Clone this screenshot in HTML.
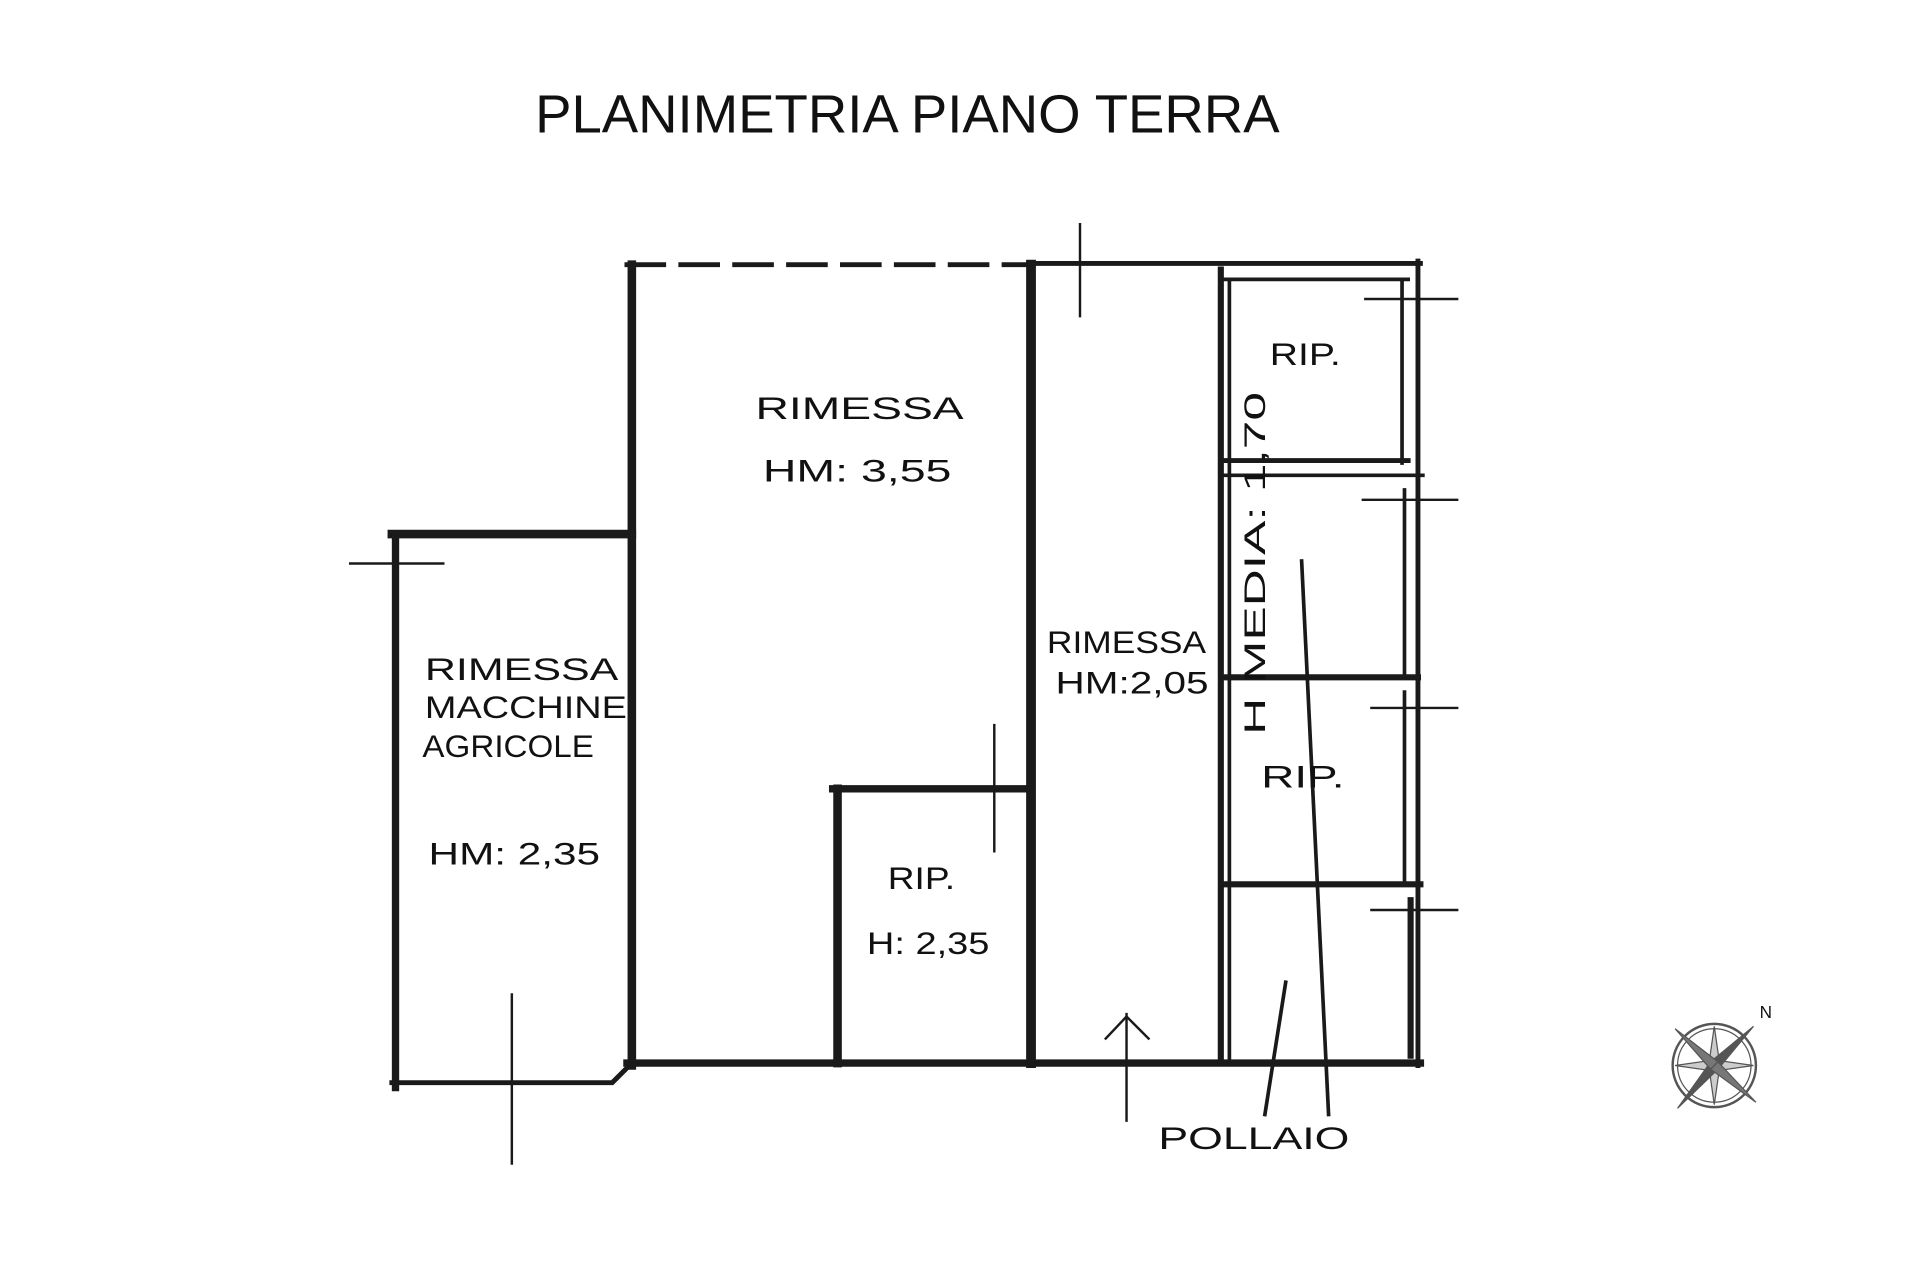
<!DOCTYPE html>
<html><head><meta charset="utf-8"><style>
html,body{margin:0;padding:0;background:#fff;}
svg{display:block}
text{font-family:"Liberation Sans",sans-serif;fill:#111}
</style></head><body>
<svg width="1920" height="1280" viewBox="0 0 1568 1045" xmlns="http://www.w3.org/2000/svg">
<text x="437" y="108" font-size="44" textLength="608" lengthAdjust="spacingAndGlyphs">PLANIMETRIA PIANO TERRA</text>
<g stroke="#1a1a1a" fill="none" stroke-linecap="square">
<line x1="512" y1="216" x2="840" y2="216" stroke-width="4" stroke-dasharray="30,14"/>
<line x1="840" y1="215" x2="1160" y2="215" stroke-width="4"/>
<line x1="1000" y1="228" x2="1150" y2="228" stroke-width="3"/>
<line x1="516" y1="216" x2="516" y2="870" stroke-width="7"/>
<line x1="842" y1="216" x2="842" y2="868" stroke-width="8"/>
<line x1="997" y1="220" x2="997" y2="868" stroke-width="5"/>
<line x1="1004" y1="228" x2="1004" y2="868" stroke-width="3"/>
<line x1="1158" y1="213" x2="1158" y2="870" stroke-width="4"/>
<line x1="1145" y1="228" x2="1145" y2="378" stroke-width="3"/>
<line x1="1147" y1="400" x2="1147" y2="553" stroke-width="3"/>
<line x1="1147" y1="565" x2="1147" y2="722" stroke-width="3"/>
<line x1="1152" y1="735" x2="1152" y2="862" stroke-width="5"/>
<line x1="512" y1="868" x2="1160" y2="868" stroke-width="6"/>
<line x1="320" y1="436" x2="516" y2="436" stroke-width="7"/>
<line x1="323" y1="436" x2="323" y2="888" stroke-width="6"/>
<polyline points="320,884 500,884 512,872" stroke-width="4"/>
<line x1="680" y1="644" x2="842" y2="644" stroke-width="6"/>
<line x1="684" y1="644" x2="684" y2="868" stroke-width="7"/>
<line x1="1000" y1="376" x2="1150" y2="376" stroke-width="4"/>
<line x1="1000" y1="388" x2="1162" y2="388" stroke-width="3"/>
<line x1="1000" y1="553" x2="1158" y2="553" stroke-width="5"/>
<line x1="1000" y1="722" x2="1160" y2="722" stroke-width="5"/>
<g stroke-width="2">
<line x1="882" y1="183" x2="882" y2="258"/>
<line x1="812" y1="592" x2="812" y2="695"/>
<line x1="418" y1="812" x2="418" y2="950"/>
<line x1="920" y1="828" x2="920" y2="915"/>
<polyline points="903,848 920,830 938,848"/>
<line x1="286" y1="460" x2="362" y2="460"/>
<line x1="1115" y1="244" x2="1190" y2="244"/>
<line x1="1113" y1="408" x2="1190" y2="408"/>
<line x1="1120" y1="578" x2="1190" y2="578"/>
<line x1="1120" y1="743" x2="1190" y2="743"/>
<line x1="1063" y1="458" x2="1085" y2="910" stroke-width="3"/>
<line x1="1050" y1="802" x2="1033" y2="910" stroke-width="3"/>
</g>
</g>
<g font-size="26">
<text x="617" y="342" textLength="170" lengthAdjust="spacingAndGlyphs">RIMESSA</text>
<text x="623" y="393" textLength="154" lengthAdjust="spacingAndGlyphs">HM: 3,55</text>
<text x="347" y="555" textLength="158" lengthAdjust="spacingAndGlyphs">RIMESSA</text>
<text x="347" y="586" textLength="165" lengthAdjust="spacingAndGlyphs">MACCHINE</text>
<text x="345" y="618" textLength="140" lengthAdjust="spacingAndGlyphs">AGRICOLE</text>
<text x="350" y="706" textLength="140" lengthAdjust="spacingAndGlyphs">HM: 2,35</text>
<text x="725" y="726" textLength="55" lengthAdjust="spacingAndGlyphs">RIP.</text>
<text x="708" y="779" textLength="100" lengthAdjust="spacingAndGlyphs">H: 2,35</text>
<text x="855" y="533" textLength="130" lengthAdjust="spacingAndGlyphs">RIMESSA</text>
<text x="862" y="566" textLength="125" lengthAdjust="spacingAndGlyphs">HM:2,05</text>
<text x="1037" y="298" textLength="58" lengthAdjust="spacingAndGlyphs">RIP.</text>
<text x="1030" y="643" textLength="68" lengthAdjust="spacingAndGlyphs">RIP.</text>
<text x="946" y="938" textLength="156" lengthAdjust="spacingAndGlyphs">POLLAIO</text>
<text transform="translate(1033,600) rotate(-90)" font-size="24" textLength="280" lengthAdjust="spacingAndGlyphs">H MEDIA: 1,70</text>
</g>
<g stroke="#555" fill="none">
<circle cx="1400" cy="870" r="34" stroke-width="2"/>
<circle cx="1400" cy="870" r="30" stroke-width="1"/>
<polygon points="1400,838 1404,866 1432,870 1404,874 1400,902 1396,874 1368,870 1396,866" fill="#ccc" stroke-width="1"/>
<polygon points="1370,905 1397,867 1403,873" fill="#555"/>
<polygon points="1432,838 1397,867 1403,873" fill="#555"/>
<polygon points="1368,840 1397,873 1403,867" fill="#777"/>
<polygon points="1434,900 1397,873 1403,867" fill="#777"/>
</g>
<text x="1437" y="831" font-size="14">N</text>
</svg>
</body></html>
